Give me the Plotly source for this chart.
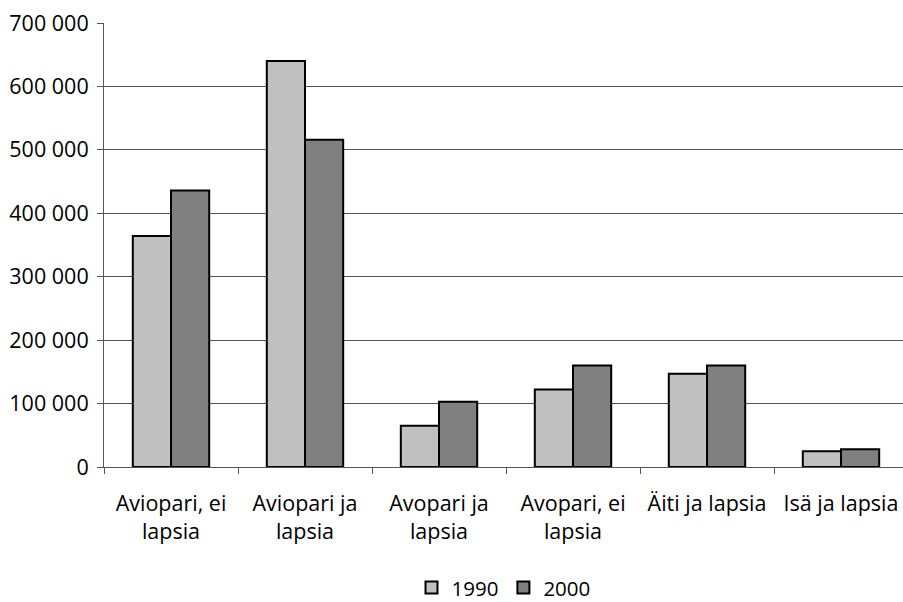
import plotly.graph_objects as go

categories = ["Aviopari, ei<br>lapsia", "Aviopari ja<br>lapsia", "Avopari ja<br>lapsia",
              "Avopari, ei<br>lapsia", "Äiti ja lapsia", "Isä ja lapsia"]
values_1990 = [364000, 640000, 65000, 122000, 147000, 25000]
values_2000 = [436000, 516000, 103000, 160000, 160000, 28000]
series_names = ["1990", "2000"]
y_ticks = [0, 100000, 200000, 300000, 400000, 500000, 600000, 700000]

FONT = "Open Sans"
FS = 21.5

fig = go.Figure()
fig.add_trace(go.Bar(x=categories, y=values_1990, name=series_names[0],
                     marker=dict(color="#C0C0C0", line=dict(color="black", width=2))))
fig.add_trace(go.Bar(x=categories, y=values_2000, name=series_names[1],
                     marker=dict(color="#808080", line=dict(color="black", width=2))))

fig.update_layout(
    width=903, height=602,
    margin=dict(l=104, r=0, t=23, b=135, autoexpand=False),
    paper_bgcolor="white", plot_bgcolor="white",
    barmode="group", bargap=0.43, bargroupgap=0,
    separators=", ",
    font=dict(family=FONT, size=FS, color="black"),
    showlegend=True,
    legend=dict(orientation="h", x=0.5, xanchor="center", y=-0.272, yanchor="middle",
                font=dict(size=FS - 1), traceorder="normal",
                itemwidth=30, tracegroupgap=0),
)
fig.update_xaxes(
    type="category", automargin=False,
    range=[-0.5, 5.5 - 5 / 134],
    tickson="boundaries", ticks="outside", ticklen=6, tickcolor="#555",
    showline=True, linecolor="#555", linewidth=1,
    showgrid=False,
    ticklabelstandoff=17, ticklabeloverflow="allow",
    tickfont=dict(family=FONT, size=FS),
)
fig.update_yaxes(
    automargin=False,
    range=[0, 700000], tickvals=y_ticks, tickformat=",d",
    ticks="outside", ticklen=6, tickcolor="#555",
    showline=True, linecolor="#555", linewidth=1,
    showgrid=True, gridcolor="#555", gridwidth=1,
    zeroline=False,
    ticklabelstandoff=4, ticklabeloverflow="allow",
    tickfont=dict(family=FONT, size=FS),
)

fig.write_html("out.html",
               config={"displayModeBar": False},
               post_script="document.body.style.margin='0';document.body.style.overflow='hidden';")
